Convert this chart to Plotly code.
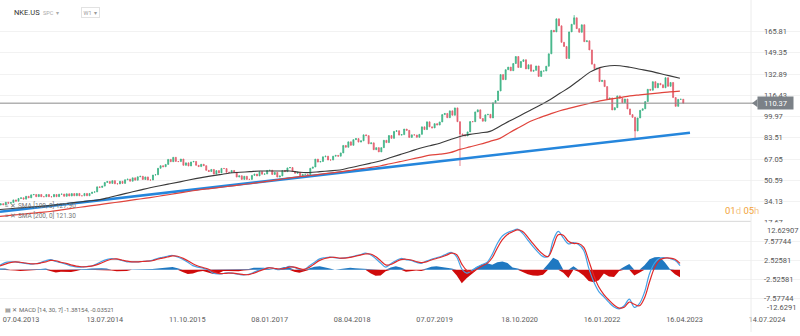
import numpy as np
import pandas as pd
import plotly.graph_objects as go

# ---------------- data ----------------
bar_start = "2012-12-16"
bar_step_days = 14
first_open = 31.4
closes = [
    32.5, 31.6, 33.6, 32.8, 33.3, 35.4, 34.4, 36.5, 37.0, 36.0,
    38.2, 37.0, 39.3, 39.6, 37.9, 39.6, 37.9, 37.9, 39.6, 37.9,
    37.8, 39.6, 37.9, 39.8, 39.9, 38.2, 40.1, 38.4, 40.3, 38.6,
    40.4, 38.6, 38.6, 40.4, 38.6, 40.4, 41.4, 41.6, 45.5, 45.1,
    46.1, 48.9, 49.7, 48.2, 50.3, 47.9, 47.8, 49.8, 48.2, 51.0,
    51.5, 49.9, 52.5, 50.7, 53.3, 53.7, 51.2, 53.2, 50.8, 50.8,
    54.7, 54.9, 59.9, 61.9, 61.1, 62.9, 66.8, 65.0, 68.4, 65.2,
    65.1, 67.1, 62.2, 64.1, 61.7, 64.8, 65.2, 62.2, 61.2, 63.0,
    61.9, 58.3, 57.4, 59.0, 55.4, 58.1, 56.3, 59.8, 59.7, 56.8,
    56.7, 58.2, 56.8, 53.1, 54.1, 51.3, 53.7, 51.3, 51.3, 54.4,
    55.4, 54.0, 57.3, 55.3, 55.5, 58.2, 58.4, 55.1, 56.7, 53.1,
    54.0, 58.2, 57.3, 60.2, 60.5, 57.4, 56.0, 56.8, 52.8, 55.2,
    55.2, 53.8, 59.9, 60.9, 67.0, 64.7, 65.2, 68.8, 69.3, 66.3,
    66.3, 69.3, 69.9, 69.3, 71.8, 77.6, 76.2, 80.4, 77.7, 82.1,
    82.9, 80.2, 81.2, 85.8, 85.2, 78.9, 79.6, 74.3, 75.9, 72.6,
    75.9, 81.6, 79.8, 85.3, 83.1, 88.5, 89.0, 85.6, 86.0, 90.3,
    89.3, 83.8, 85.8, 85.7, 83.9, 86.2, 92.0, 89.9, 95.9, 92.0,
    91.2, 94.5, 93.4, 95.8, 101.5, 102.4, 99.1, 104.4, 101.0, 106.7,
    96.0, 86.5, 85.8, 85.0, 88.1, 96.1, 96.0, 103.6, 105.2, 98.5,
    96.4, 101.3, 101.7, 98.9, 110.6, 112.4, 119.8, 132.5, 128.6, 136.3,
    138.3, 135.5, 141.1, 146.5, 138.0, 142.7, 144.0, 136.9, 140.1, 135.1,
    135.8, 139.2, 131.1, 135.3, 135.3, 139.0, 148.6, 166.8, 165.6, 175.7,
    170.3, 157.5, 154.3, 145.0, 165.6, 171.5, 176.5, 168.1, 165.3, 171.1,
    158.0, 158.7, 151.6, 140.6, 137.1, 137.4, 127.1, 128.1, 123.2, 113.4,
    114.4, 105.1, 106.9, 116.0, 114.1, 110.7, 113.6, 105.9, 101.5, 99.4,
    88.8, 98.9, 104.8, 106.0, 111.6, 121.1, 120.4, 127.0, 122.3, 125.7,
    124.6, 122.3, 130.1, 123.4, 126.4, 114.7, 107.9, 113.3, 113.4, 110.37,
]
wick_lows = {181: 61.7, 250: 82.5}
wick_highs = {226: 178.6}

sma_start = "2012-12-12"
sma_step_hours = 1324
sma100 = [
    28.0, 28.6, 29.2, 29.8, 30.4, 31.0, 31.9, 32.9, 33.8, 34.7,
    35.6, 37.5, 39.3, 41.2, 43.0, 44.8, 46.4, 47.9, 49.4, 51.0,
    52.5, 53.8, 55.0, 56.3, 56.8, 57.3, 57.8, 57.8, 57.8, 57.8,
    56.8, 56.6, 57.3, 57.9, 58.6, 60.3, 62.0, 63.7, 65.5, 68.0,
    70.5, 72.9, 75.5, 77.4, 79.3, 82.0, 84.6, 86.2, 87.3, 88.5,
    92.5, 96.7, 100.7, 104.7, 108.7, 113.0, 118.0, 122.9, 128.7, 134.4,
    137.9, 139.4, 139.4, 138.2, 136.7, 135.2, 133.3, 131.5, 129.6,
]
sma200 = [
    22.6, 23.4, 24.1, 24.9, 25.7, 26.4, 27.5, 28.6, 29.7, 30.7,
    31.8, 32.9, 33.9, 35.0, 36.1, 37.2, 38.4, 39.6, 40.9, 42.1,
    43.3, 44.2, 45.1, 46.1, 47.0, 47.9, 49.0, 50.2, 51.3, 52.5,
    53.4, 54.3, 55.2, 56.2, 57.1, 58.2, 59.4, 60.5, 61.7, 63.4,
    65.0, 66.7, 68.4, 70.1, 70.8, 72.0, 74.5, 76.5, 78.5, 80.8,
    83.1, 87.7, 91.9, 96.1, 99.2, 101.9, 104.5, 106.5, 108.4, 110.3,
    112.2, 113.5, 114.7, 116.0, 116.8, 117.6, 118.3, 119.1, 119.7,
]

trend_dates = ["2012-12-12", "2023-05-16"]
trend_values = [26.2, 87.5]

macd_start = "2012-12-12"
macd_step_days = 28
macd_line = [
    1.2, 1.9, 2.1, 2.1, 1.9, 1.7, 1.5, 1.6, 1.9, 2.4,
    2.7, 2.2, 1.9, 1.5, 1.0, 0.75, 0.7, 0.85, 1.0, 1.5,
    2.2, 2.7, 3.0, 2.8, 2.5, 2.1, 2.1, 2.1, 2.2, 2.3,
    2.5, 3.0, 3.3, 3.6, 3.8, 3.4, 2.8, 2.0, 1.1, 0.7,
    0.4, 0.0, -0.9, -1.1, -1.0, -0.8, -1.0, -1.2, -1.4, -1.2,
    -0.7, -0.1, 0.3, 0.6, 0.3, 0.0, 0.4, 0.9, 0.6, 0.1,
    0.1, 1.1, 2.0, 2.9, 3.2, 3.4, 3.2, 3.0, 3.2, 3.4,
    3.7, 4.0, 4.4, 4.0, 3.0, 1.8, 0.7, 1.6, 2.4, 3.0,
    2.7, 2.5, 2.0, 1.7, 2.3, 2.8, 3.2, 3.6, 4.2, 4.6,
    3.4, 0.2, -0.9, -0.2, 0.7, 1.4, 2.0, 4.1, 7.0, 9.0,
    9.9, 10.4, 10.8, 9.7, 7.9, 6.2, 4.7, 3.5, 3.5, 7.8,
    10.2, 8.5, 6.9, 7.2, 6.7, 5.2, 0.5, -3.2, -5.8, -7.2,
    -8.7, -9.9, -10.4, -9.6, -7.8, -10.0, -9.0, -6.0, -1.0, 1.8,
    3.1, 3.2, 3.0, 2.5, 1.1,
]
signal_line = [
    1.0, 1.5, 1.9, 2.1, 2.0, 1.8, 1.6, 1.6, 1.8, 2.1,
    2.5, 2.4, 2.0, 1.7, 1.3, 0.95, 0.8, 0.8, 0.95, 1.3,
    1.8, 2.4, 2.8, 2.9, 2.6, 2.3, 2.1, 2.1, 2.2, 2.3,
    2.4, 2.8, 3.1, 3.4, 3.7, 3.6, 3.1, 2.4, 1.6, 1.0,
    0.6, 0.2, -0.5, -1.0, -1.0, -0.9, -0.9, -1.1, -1.3, -1.3,
    -0.9, -0.4, 0.1, 0.5, 0.4, 0.2, 0.3, 0.7, 0.7, 0.3,
    0.1, 0.7, 1.6, 2.5, 3.0, 3.3, 3.3, 3.1, 3.1, 3.3,
    3.6, 3.9, 4.2, 4.2, 3.5, 2.4, 1.3, 1.4, 2.1, 2.7,
    2.8, 2.6, 2.2, 1.9, 2.1, 2.6, 3.0, 3.4, 3.9, 4.4,
    4.0, 1.5, -0.2, -0.5, 0.2, 1.0, 1.7, 3.2, 5.8, 8.0,
    9.4, 10.1, 10.6, 10.2, 8.7, 7.0, 5.4, 4.1, 3.5, 6.2,
    9.3, 9.2, 7.6, 7.0, 7.0, 6.0, 2.5, -1.5, -4.6, -6.6,
    -8.1, -9.4, -10.2, -10.0, -8.6, -9.2, -9.6, -7.5, -3.2, 0.6,
    2.6, 3.1, 3.1, 2.8, 1.7,
]
macd_hist = [
    0.3, 0.3, -0.2, -0.2, -0.3, -0.2, -0.1, 0.2, 0.2, 0.3,
    -0.3, -0.7, -0.5, -0.6, -0.6, -0.3, 0.1, 0.2, 0.3, 0.4,
    0.4, 0.3, -0.2, -0.4, -0.4, -0.3, 0.0, 0.1, 0.1, 0.1,
    0.2, 0.3, 0.4, 0.5, 0.7, 0.4, -0.6, -1.1, -1.0, -0.5,
    -0.3, -0.8, -1.1, -1.0, -0.3, -0.3, -0.4, -0.4, -0.2, 0.2,
    0.5, 0.6, 0.5, 0.2, -0.1, 0.3, 0.7, 0.6, -0.5, -0.8,
    -0.4, 0.4, 0.8, 0.9, 0.7, 0.3, 0.0, 0.1, 0.4, 0.5,
    0.4, 0.3, 0.2, -0.9, -1.6, -1.5, -0.4, 0.6, 0.9, 0.6,
    -0.5, -0.4, -0.2, -0.3, 0.3, 0.8, 0.9, 0.6, 0.5, 0.3,
    -1.5, -3.6, -2.2, -1.0, 0.8, 1.4, 1.7, 1.3, 2.0, 2.2,
    1.8, 0.6, 0.3, -0.6, -1.2, -1.5, -1.6, -1.3, 1.5, 3.2,
    2.5, -0.8, -2.2, 0.9, -0.5, -1.5, -3.0, -3.3, -2.8, -1.0,
    -1.8, -1.9, -0.3, 0.8, 1.5, -1.5, -0.8, 1.2, 2.8, 3.3,
    3.4, 2.0, 0.2, -1.2, -2.0,
]

last_price = 110.37
price_ticks = [165.81, 149.35, 132.89, 116.43, 99.97, 83.51, 67.05, 50.59, 34.13, 17.67]
macd_ticks = [7.57744, 2.52581, -2.52581, -7.57744]
macd_tick_text = ["7.57744", "2.52581", "-2.52581", "-7.57744"]
macd_edge_labels = ["12.62907", "-12.6291"]
date_ticks = ["2013-04-07", "2014-07-13", "2015-10-11", "2017-01-08", "2018-04-08",
              "2019-07-07", "2020-10-18", "2022-01-16", "2023-04-16", "2024-07-14"]
date_labels = ["07.04.2013", "13.07.2014", "11.10.2015", "08.01.2017", "08.04.2018",
               "07.07.2019", "18.10.2020", "16.01.2022", "16.04.2023", "14.07.2024"]

# ---------------- build ----------------
W, H = 800, 336
bar_dates = pd.date_range(bar_start, periods=len(closes), freq=f"{bar_step_days}D")
opens = [first_open] + closes[:-1]
highs = [max(o, c) for o, c in zip(opens, closes)]
lows = [min(o, c) for o, c in zip(opens, closes)]
for i, v in wick_highs.items():
    highs[i] = v
for i, v in wick_lows.items():
    lows[i] = v

sma_dates = pd.date_range(sma_start, periods=len(sma100), freq=f"{sma_step_hours}h")
macd_dates = pd.date_range(macd_start, periods=len(macd_line), freq=f"{macd_step_days}D")
hist = np.array(macd_hist)
hist_pos = np.where(hist > 0, hist, 0)
hist_neg = np.where(hist < 0, hist, 0)

FONT = "Roboto"
fig = go.Figure()

fig.add_trace(go.Scatter(x=trend_dates, y=trend_values, mode="lines",
                         line=dict(color="#2586dc", width=2.6), hoverinfo="skip"))
fig.add_trace(go.Scatter(x=sma_dates, y=sma200, mode="lines", line_shape="spline",
                         line=dict(color="#e0443c", width=1.2), hoverinfo="skip"))
fig.add_trace(go.Scatter(x=sma_dates, y=sma100, mode="lines", line_shape="spline",
                         line=dict(color="#3a3a3a", width=1.1), hoverinfo="skip"))
fig.add_trace(go.Candlestick(
    x=bar_dates, open=opens, high=highs, low=lows, close=closes,
    increasing=dict(line=dict(color="#3fb487", width=0.8), fillcolor="#3fb487"),
    decreasing=dict(line=dict(color="#e3606f", width=0.8), fillcolor="#e3606f"),
    whiskerwidth=0, hoverinfo="skip"))

fig.add_trace(go.Scatter(x=macd_dates, y=hist_pos, mode="lines", fill="tozeroy",
                         line=dict(width=0, color="#1f78c1"), fillcolor="#1f78c1",
                         yaxis="y2", hoverinfo="skip"))
fig.add_trace(go.Scatter(x=macd_dates, y=hist_neg, mode="lines", fill="tozeroy",
                         line=dict(width=0, color="#cf0b0b"), fillcolor="#cf0b0b",
                         yaxis="y2", hoverinfo="skip"))
fig.add_trace(go.Scatter(x=macd_dates, y=macd_line, mode="lines", line_shape="spline",
                         line=dict(color="#46a2e6", width=1.2), yaxis="y2", hoverinfo="skip"))
fig.add_trace(go.Scatter(x=macd_dates, y=signal_line, mode="lines", line_shape="spline",
                         line=dict(color="#e02a2a", width=1.2), yaxis="y2", hoverinfo="skip"))

price_top, px_per_usd = 190.31, 1.306
price_bottom = price_top - 226 / px_per_usd

axis_x = 751 / W
fig.update_layout(
    width=W, height=H, margin=dict(l=0, r=0, t=0, b=0),
    paper_bgcolor="white", plot_bgcolor="white", showlegend=False,
    boxgap=0.45,
    font=dict(family=FONT, size=7.5, color="#555"),
    xaxis=dict(domain=[0, 1], range=["2012-12-12", "2025-01-12"], type="date",
               anchor="free", position=(H - 317) / H,
               tickvals=date_ticks, ticktext=date_labels, showgrid=False,
               showline=False, zeroline=False, ticks="",
               tickfont=dict(size=7.3, color="#555"),
               rangeslider=dict(visible=False)),
    yaxis=dict(domain=[(H - 226) / H, 1], range=[price_bottom, price_top],
               side="right", anchor="free", position=axis_x,
               tickvals=price_ticks, ticktext=[f"{v:.2f}" for v in price_ticks],
               showgrid=True, gridcolor="#f2f2f2", zeroline=False, ticks="",
               ticklabelstandoff=12, tickfont=dict(size=7.5, color="#555")),
    yaxis2=dict(domain=[(H - 321) / H, (H - 225) / H], range=[-12.6291, 12.6291],
                side="right", anchor="free", position=axis_x,
                tickvals=macd_ticks, ticktext=macd_tick_text,
                showgrid=True, gridcolor="#f2f2f2", zeroline=False, ticks="",
                ticklabelstandoff=12, tickfont=dict(size=7.5, color="#555")),
)

shapes = [
    dict(type="line", xref="paper", yref="paper", x0=0, x1=axis_x,
         y0=1 - 224 / H, y1=1 - 224 / H, line=dict(color="#d8d8d8", width=1)),
    dict(type="line", xref="paper", yref="paper", x0=axis_x, x1=axis_x,
         y0=0, y1=1, line=dict(color="#ececec", width=1)),
    dict(type="line", xref="paper", yref="y", x0=0, x1=757 / W,
         y0=last_price, y1=last_price, line=dict(color="#8a8a8a", width=1)),
    dict(type="path", xref="paper", yref="y",
         path=f"M {752 / W},{last_price} L {757.5 / W},{last_price + 3.2} "
              f"L {757.5 / W},{last_price - 3.2} Z",
         fillcolor="#7b8187", line=dict(width=0)),
]
fig.update_layout(shapes=shapes)

ann = [
    dict(x=757 / W, y=last_price, xref="paper", yref="y", xanchor="left", yanchor="middle",
         text=f"{last_price:.2f}", showarrow=False, bgcolor="#7b8187",
         font=dict(color="white", size=7.5, family=FONT), borderpad=1.5, width=32),
    dict(x=765 / W, y=1 - 233 / H, xref="paper", yref="paper", xanchor="left",
         yanchor="middle", text=macd_edge_labels[0], showarrow=False,
         font=dict(size=7.5, color="#555")),
    dict(x=765 / W, y=1 - 311 / H, xref="paper", yref="paper", xanchor="left",
         yanchor="middle", text=macd_edge_labels[1], showarrow=False,
         font=dict(size=7.5, color="#555")),
    dict(x=742 / W, y=1 - 213 / H, xref="paper", yref="paper", xanchor="center",
         yanchor="middle", showarrow=False,
         text="<span style='color:#f2a33a'>01</span><span style='color:#f5c98c'>d</span> "
              "<span style='color:#f2a33a'>05</span><span style='color:#f5c98c'>h</span>",
         font=dict(size=9.5, family=FONT)),
    dict(x=3 / W, y=1 - 208 / H, xref="paper", yref="paper", xanchor="left",
         yanchor="middle", showarrow=False, text="≡ ✕ SMA [100, 0] 127.90",
         font=dict(size=6.5, color="#777")),
    dict(x=3 / W, y=1 - 218 / H, xref="paper", yref="paper", xanchor="left",
         yanchor="middle", showarrow=False, text="≡ ✕ SMA [200, 0] 121.30",
         font=dict(size=6.5, color="#777")),
    dict(x=3 / W, y=1 - 313 / H, xref="paper", yref="paper", xanchor="left",
         yanchor="middle", showarrow=False, text="▤ ✕ MACD [14, 30, 7] -1.38154, -0.03521",
         font=dict(size=6, color="#666")),
    dict(x=12 / W, y=1 - 13 / H, xref="paper", yref="paper", xanchor="left",
         yanchor="middle", showarrow=False, text="NKE.US",
         font=dict(size=7.5, color="#333")),
    dict(x=41 / W, y=1 - 13 / H, xref="paper", yref="paper", xanchor="left",
         yanchor="middle", showarrow=False, text="SPC  ▾",
         font=dict(size=5.5, color="#aaa")),
    dict(x=81 / W, y=1 - 13 / H, xref="paper", yref="paper", xanchor="left",
         yanchor="middle", showarrow=False, text="W1  ▾",
         font=dict(size=5.5, color="#999"), bordercolor="#e2e2e2", borderwidth=1,
         borderpad=1.5),
]
fig.update_layout(annotations=ann)

fig.write_html("out.html")
